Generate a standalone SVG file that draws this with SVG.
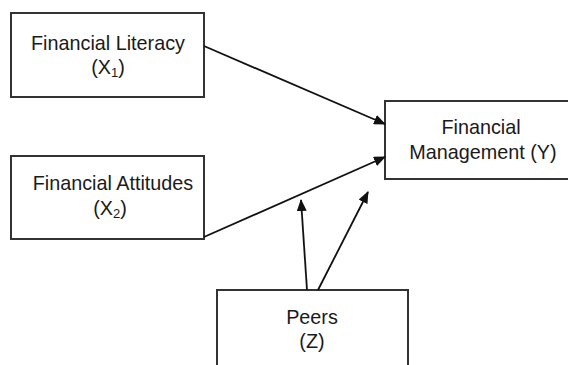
<svg xmlns="http://www.w3.org/2000/svg" width="568" height="365" viewBox="0 0 568 365">
<defs>
<marker id="ah" markerWidth="12" markerHeight="10" refX="11" refY="5" orient="auto" markerUnits="userSpaceOnUse">
<path d="M0,0 L12,5 L0,10 Z" fill="#111"/>
</marker>
<style>
.box{fill:#fff;stroke:#333;stroke-width:2}
.t{font-family:"Liberation Sans",Arial,sans-serif;font-size:19.8px;fill:#1a1a1a;text-anchor:middle}
.c{stroke:#111;stroke-width:1.8;fill:none;marker-end:url(#ah)}
</style>
</defs>
<rect width="568" height="365" fill="#fff"/>
<g id="x1">
<rect class="box" x="11" y="13" width="193" height="84"/>
<text class="t" x="108" y="50">Financial Literacy</text>
<text class="t" x="108" y="74">(X<tspan font-size="13" dy="3">1</tspan><tspan dy="-3">)</tspan></text>
</g>
<g id="x2">
<rect class="box" x="11" y="156" width="193" height="83"/>
<text class="t" x="113" y="190">Financial Attitudes</text>
<text class="t" x="110" y="215">(X<tspan font-size="13" dy="3">2</tspan><tspan dy="-3">)</tspan></text>
</g>
<g id="y">
<rect class="box" x="385" y="101" width="200" height="78"/>
<text class="t" x="481" y="134">Financial</text>
<text class="t" x="483" y="159">Management (Y)</text>
</g>
<g id="z">
<rect class="box" x="217" y="290" width="191" height="90"/>
<text class="t" x="312" y="324">Peers</text>
<text class="t" x="312" y="348">(Z)</text>
</g>
<g id="connectors">
<line class="c" x1="204" y1="46" x2="385" y2="124"/>
<line class="c" x1="204" y1="237" x2="385" y2="157"/>
<line class="c" x1="307" y1="290" x2="301" y2="200"/>
<line class="c" x1="318" y1="290" x2="368" y2="192"/>
</g>
</svg>
